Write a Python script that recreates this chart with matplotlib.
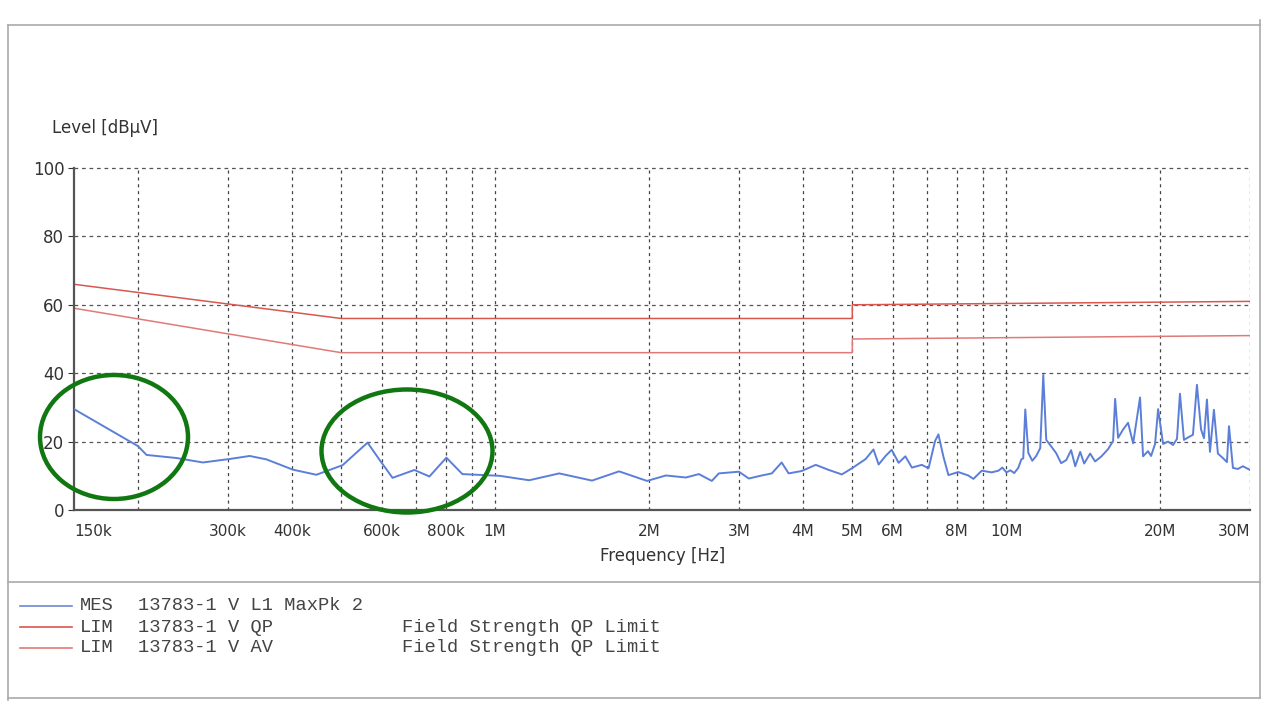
import numpy as np
import matplotlib.pyplot as plt
from matplotlib.patches import Ellipse
from matplotlib.lines import Line2D

# measured peak scan (frequency in MHz, level in dBuV)
mes_freq = [0.150, 0.200, 0.208, 0.238, 0.268, 0.302, 0.331, 0.357, 0.402, 0.447,
            0.503, 0.563, 0.594, 0.630, 0.695, 0.744, 0.803, 0.863, 1.02, 1.166,
            1.335, 1.548, 1.748, 1.983, 2.159, 2.362, 2.505, 2.655, 2.74, 3.0,
            3.137, 3.326, 3.479, 3.637, 3.753, 3.98, 4.24, 4.5, 4.77, 4.98,
            5.31, 5.50, 5.63, 5.80, 5.97, 6.16, 6.35, 6.54, 6.84, 7.05,
            7.26, 7.37, 7.54, 7.71, 8.06, 8.43, 8.63, 8.96, 9.37,
            9.66, 9.83, 10.01, 10.19, 10.37, 10.56, 10.71, 10.80, 10.90, 11.05,
            11.25, 11.45, 11.66, 11.82, 11.98, 12.25, 12.53, 12.81, 13.11, 13.40,
            13.65, 13.96, 14.21, 14.60, 14.93, 15.34, 15.83, 16.19, 16.34, 16.56,
            16.93, 17.32, 17.72, 18.28, 18.53, 18.95, 19.21, 19.56, 19.83, 20.28,
            20.74, 21.21, 21.59, 21.88, 22.28, 22.68, 23.20, 23.62, 24.06, 24.38,
            24.71, 25.05, 25.5, 25.96, 26.55, 27.04, 27.29, 27.78, 28.41, 29.06,
            30.0]
mes_level = [29.5, 18.7, 16.1, 15.2, 13.9, 14.9, 15.8, 14.8, 11.8, 10.3,
             13.1, 19.7, 14.7, 9.4, 11.7, 9.8, 15.3, 10.5, 10.0, 8.7,
             10.7, 8.6, 11.3, 8.5, 10.1, 9.5, 10.5, 8.5, 10.7, 11.2,
             9.2, 10.1, 10.7, 13.9, 10.7, 11.4, 13.2, 11.7, 10.4, 12.1,
             14.9, 17.7, 13.3, 15.7, 17.6, 13.8, 15.7, 12.4, 13.2, 12.2,
             20.2, 22.1, 15.5, 10.2, 11.1, 10.1, 9.1, 11.5, 11.0,
             11.5, 12.4, 11.0, 11.6, 10.8, 12.3, 14.8, 15.1, 29.4, 16.7,
             14.4, 15.8, 18.1, 39.5, 20.5, 18.6, 16.6, 13.7, 14.6, 17.5,
             12.8, 17.0, 13.6, 16.5, 14.2, 15.6, 17.8, 20.2, 32.5, 21.1,
             23.5, 25.5, 19.5, 32.9, 15.7, 17.2, 15.8, 19.3, 29.5, 19.3,
             20.0, 19.0, 20.8, 34.0, 20.5, 21.2, 22.0, 36.6, 23.6, 21.0,
             32.3, 17.0, 29.3, 16.5, 15.2, 14.0, 24.5, 12.3, 12.0, 12.8,
             11.7]

# limit lines
lim_freq = [0.15, 0.5, 5.0, 5.0, 30.0]
qp_level = [66, 56, 56, 60, 61]
av_level = [59, 46, 46, 50, 51]

grid_freq = [0.2, 0.3, 0.4, 0.5, 0.6, 0.7, 0.8, 0.9, 1, 2, 3, 4, 5, 6, 7, 8, 9, 10, 20, 30]
tick_freq = [0.15, 0.3, 0.4, 0.6, 0.8, 1, 2, 3, 4, 5, 6, 8, 10, 20, 30]
tick_text = ['150k', '300k', '400k', '600k', '800k', '1M', '2M', '3M', '4M', '5M', '6M', '8M', '10M', '20M', '30M']
y_ticks = [0, 20, 40, 60, 80, 100]

legend_rows = [('MES', '13783-1 V L1 MaxPk 2', ''),
               ('LIM', '13783-1 V QP', 'Field Strength QP Limit'),
               ('LIM', '13783-1 V AV', 'Field Strength QP Limit')]
legend_col = ['#6f86d6', '#d9574f', '#e07a78']

W, H = 1269, 706
fig = plt.figure(figsize=(W/100, H/100), dpi=100)
ax = fig.add_axes([74/W, 1-510/H, (1250-74)/W, (510-168)/H])

ax.set_xscale('log')
ax.set_xlim(0.15, 30)
ax.set_ylim(0, 100)

for f in grid_freq:
    ax.axvline(f, color='#444444', lw=0.9, ls=(0, (2.5, 3)), zorder=1)
for y in y_ticks[1:]:
    ax.axhline(y, color='#555555', lw=0.9, ls=(0, (3, 3)), zorder=1, clip_on=False)

ax.plot(lim_freq, qp_level, color=legend_col[1], lw=1.1, zorder=2)
ax.plot(lim_freq, av_level, color=legend_col[2], lw=1.1, zorder=2)
ax.plot(mes_freq, mes_level, color='#5b7fd8', lw=1.4, zorder=3)

ax.set_xticks(tick_freq)
ax.set_xticklabels(tick_text)
ax.xaxis.set_minor_locator(plt.NullLocator())
labs = ax.get_xticklabels()
labs[0].set_ha('left')
labs[-1].set_ha('right')
ax.set_yticks(y_ticks)
ax.tick_params(axis='x', length=0, pad=10, labelsize=11, colors='#333333')
ax.tick_params(axis='y', length=4, pad=3, labelsize=12, colors='#333333')
for s in ['top', 'right']:
    ax.spines[s].set_visible(False)
for s in ['left', 'bottom']:
    ax.spines[s].set_color('#555555')
    ax.spines[s].set_linewidth(1.6)

fig.text(52/W, 1-128/H, 'Level [dB\u00b5V]', fontsize=12, color='#333333', va='center')
fig.text(663/W, 1-556/H, 'Frequency [Hz]', fontsize=12, color='#333333', ha='center', va='center')

# green marks drawn over the scan
for cx, cy, w, h in [(114, 437, 148, 124), (407, 451, 171, 123)]:
    fig.patches.append(Ellipse((cx/W, 1-cy/H), w/W, h/H, transform=fig.transFigure,
                               fill=False, ec='#117711', lw=3.2))

# page frame
frame = [((8, 8), (25, 700)), ((8, 1260), (25, 25)), ((1260, 1260), (20, 698)),
         ((8, 1260), (698, 698)), ((8, 1260), (582, 582))]
for xs, ys in frame:
    fig.add_artist(Line2D([x/W for x in xs], [1-y/H for y in ys], color='#aaaaaa', lw=1.2))

# legend block
mono = dict(family='Liberation Mono', fontsize=13.5, color='#444444', va='center')
for i, (a, b, c) in enumerate(legend_rows):
    yy = 1-(606+21*i)/H
    fig.add_artist(Line2D([20/W, 72/W], [yy, yy], color=legend_col[i], lw=1.2))
    fig.text(80/W, yy, a, **mono)
    fig.text(138/W, yy, b, **mono)
    if c:
        fig.text(402/W, yy, c, **mono)

fig.savefig('out.png', dpi=100)
